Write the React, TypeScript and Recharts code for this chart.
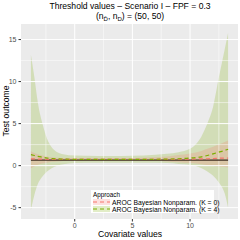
import React from "react";
import { ComposedChart, Area, Line, XAxis, YAxis, CartesianGrid, ReferenceLine } from "recharts";

const covariate = [-3.8, -3.5, -3.2, -2.8, -2.4, -2.0, -1.5, -1.0, 0, 2, 4, 6, 8, 9, 10, 11, 11.5, 12, 12.5, 13, 13.3];
const k4Upper = [13.2, 10.5, 7.5, 5.0, 3.2, 2.2, 1.6, 1.35, 1.2, 1.15, 1.15, 1.2, 1.4, 1.6, 2.0, 3.5, 5.0, 7.0, 10.5, 13.8, 15.8];
const k4Lower = [-5.3, -3.5, -2.2, -1.3, -0.7, -0.3, 0.0, 0.15, 0.3, 0.35, 0.35, 0.35, 0.3, 0.2, 0.1, -0.3, -0.7, -1.2, -2.0, -3.3, -5.0];
const k4Mean = [1.3, 1.2, 1.1, 1.0, 0.9, 0.85, 0.8, 0.78, 0.75, 0.75, 0.75, 0.75, 0.78, 0.82, 0.9, 1.05, 1.2, 1.4, 1.6, 1.8, 1.95];
const k0Upper = [1.7, 1.5, 1.35, 1.2, 1.1, 1.0, 0.95, 0.9, 0.9, 0.88, 0.9, 0.95, 1.1, 1.25, 1.45, 1.75, 2.0, 2.25, 2.5, 2.8, 3.0];
const k0Lower = [-0.3, -0.1, 0.1, 0.25, 0.35, 0.45, 0.5, 0.55, 0.6, 0.62, 0.62, 0.6, 0.5, 0.4, 0.3, 0.15, 0.05, -0.05, -0.1, -0.15, -0.2];
const k0Mean = [0.8, 0.8, 0.78, 0.77, 0.76, 0.75, 0.75, 0.75, 0.75, 0.75, 0.75, 0.75, 0.75, 0.76, 0.78, 0.8, 0.82, 0.85, 0.88, 0.9, 0.9];
const trueValue = [0.65, 0.65, 0.65, 0.65, 0.65, 0.65, 0.65, 0.65, 0.65, 0.65, 0.65, 0.65, 0.65, 0.65, 0.65, 0.65, 0.65, 0.65, 0.65, 0.65, 0.65];

const xTicks = [0, 5, 10];
const yTicks = [-5, 0, 5, 10, 15];
const xMinor = [-2.5, 2.5, 7.5, 12.5];
const yMinor = [-2.5, 2.5, 7.5, 12.5];

const legendLabels = ["AROC Bayesian Nonparam. (K = 0)", "AROC Bayesian Nonparam. (K = 4)"];

const data = covariate.map((x, i) => ({
  x,
  k4: [k4Lower[i], k4Upper[i]],
  k0: [k0Lower[i], k0Upper[i]],
  k4m: k4Mean[i],
  k0m: k0Mean[i],
  tv: trueValue[i],
}));

const RED = "#F8766D";
const GREEN = "#7CAE00";
const FONT = "'Liberation Sans', Arial, sans-serif";

export default function App() {
  const sub = { fontSize: 6, position: "relative" as const, top: 2, verticalAlign: "baseline" };
  return (
    <div style={{ position: "absolute", left: 0, top: 0, width: 240, height: 240, background: "#fff", fontFamily: FONT }}>
      <div style={{ position: "absolute", left: 20, width: 220, top: 1, textAlign: "center", fontSize: 8.6, color: "#000", lineHeight: "11px", whiteSpace: "nowrap" }}>
        Threshold values – Scenario I – FPF = 0.3
      </div>
      <div style={{ position: "absolute", left: 20, width: 220, top: 11, textAlign: "center", fontSize: 8.6, color: "#000", lineHeight: "11px", whiteSpace: "nowrap" }}>
        (n<span style={sub}>D̄</span>, n<span style={sub}>D</span>) = (50, 50)
      </div>
      <ComposedChart width={240} height={240} data={data} margin={{ top: 24, right: 2, bottom: 0, left: 0 }}>
        <CartesianGrid fill="#EBEBEB" stroke="none" />
        {xMinor.map((v) => (
          <ReferenceLine key={"xm" + v} x={v} stroke="#fff" strokeWidth={0.5} />
        ))}
        {yMinor.map((v) => (
          <ReferenceLine key={"ym" + v} y={v} stroke="#fff" strokeWidth={0.5} />
        ))}
        {xTicks.map((v) => (
          <ReferenceLine key={"xM" + v} x={v} stroke="#fff" strokeWidth={1} />
        ))}
        {yTicks.map((v) => (
          <ReferenceLine key={"yM" + v} y={v} stroke="#fff" strokeWidth={1} />
        ))}
        <XAxis
          type="number"
          dataKey="x"
          domain={[-4.66, 14.16]}
          ticks={xTicks}
          allowDataOverflow
          height={21}
          tickSize={2.5}
          axisLine={false}
          tick={{ fontSize: 7, fill: "#4D4D4D", fontFamily: FONT }}
          tickLine={{ stroke: "#333" }}
        />
        <YAxis
          type="number"
          domain={[-6.35, 16.85]}
          ticks={yTicks}
          allowDataOverflow
          width={21}
          tickSize={2.5}
          axisLine={false}
          tick={{ fontSize: 7, fill: "#4D4D4D", fontFamily: FONT }}
          tickLine={{ stroke: "#333" }}
        />
        <Area dataKey="k4" type="monotone" fill={GREEN} fillOpacity={0.22} stroke="none" isAnimationActive={false} />
        <Area dataKey="k0" type="monotone" fill={RED} fillOpacity={0.22} stroke="none" isAnimationActive={false} />
        <Line dataKey="tv" type="monotone" stroke="#3d2b1f" strokeWidth={1.3} dot={false} isAnimationActive={false} />
        <Line dataKey="k0m" type="monotone" stroke={RED} strokeWidth={1.2} strokeDasharray="4 3" dot={false} isAnimationActive={false} />
        <Line dataKey="k4m" type="monotone" stroke={GREEN} strokeWidth={1.2} strokeDasharray="4 3" dot={false} isAnimationActive={false} />
      </ComposedChart>
      <div style={{ position: "absolute", left: 80, width: 100, top: 229, textAlign: "center", fontSize: 8.6, lineHeight: "10px", color: "#000", whiteSpace: "nowrap" }}>
        Covariate values
      </div>
      <div style={{ position: "absolute", left: 6, top: 111, width: 0, height: 0 }}>
        <div style={{ position: "absolute", left: -50, top: -5, width: 100, height: 10, lineHeight: "10px", textAlign: "center", fontSize: 8.6, color: "#000", whiteSpace: "nowrap", transform: "rotate(-90deg)" }}>
          Test outcome
        </div>
      </div>
      <div style={{ position: "absolute", left: 91, top: 190, width: 123, height: 23, background: "#fff", fontSize: 6.8, lineHeight: "7px", color: "#000" }}>
        <div style={{ position: "absolute", left: 2, top: 1, fontSize: 6.3 }}>Approach</div>
        {[RED, GREEN].map((c, i) => (
          <div key={c} style={{ position: "absolute", left: 2, top: 8.5 + i * 7, height: 7, width: 120 }}>
            <svg width={17} height={6} style={{ position: "absolute", left: 0, top: 0.5 }}>
              <rect x={0} y={0} width={17} height={6} fill={c} fillOpacity={0.22} />
              <line x1={0} y1={3} x2={17} y2={3} stroke={c} strokeWidth={1.2} strokeDasharray="4 3" />
            </svg>
            <span style={{ position: "absolute", left: 19, top: 0, whiteSpace: "nowrap" }}>{legendLabels[i]}</span>
          </div>
        ))}
      </div>
    </div>
  );
}
